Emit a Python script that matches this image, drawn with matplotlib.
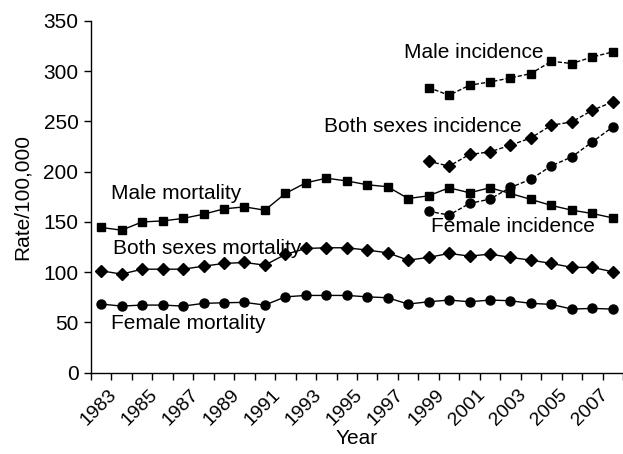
import numpy as np
import matplotlib.pyplot as plt
import matplotlib.transforms as mtransforms

plt.rcParams['font.family'] = ['Liberation Sans', 'DejaVu Sans']

# years of mortality data (1982-2007) and incidence data (1998-2007)
years = np.arange(1982, 2008)
inc_years = np.arange(1998, 2008)

male_mort = [144.5, 141.8, 150, 151, 153.5, 157.7, 163, 165, 161.7, 178.3, 188.9, 193.5,
             190.8, 187, 185, 173.3, 176, 184, 179, 184, 178.3, 172.4, 166.4, 161.7,
             158.4, 154]
both_mort = [101.4, 98.1, 103, 103, 103, 106, 108.7, 109.7, 107, 117.7, 123.6, 124.3,
             124.3, 122, 119.3, 112, 114.7, 118.7, 116, 118, 114.7, 112, 108.7, 104.8,
             104.8, 100.4]
female_mort = [68.3, 66.3, 67.3, 67.3, 66.3, 69, 69.6, 70, 67.3, 75.5, 76.9, 76.9,
               76.9, 75.5, 74.6, 68.3, 70.6, 72.3, 70.6, 72.3, 71.6, 69, 68, 63.3,
               64, 63.3]

male_inc = [283.7, 276, 286, 289.3, 293.2, 297.6, 309.8, 307.6, 314.1, 319.1]
both_inc = [210.4, 205.5, 217.1, 219.7, 226.3, 233.6, 246.2, 249.5, 261.1, 269.4]
female_inc = [160.7, 156.8, 168.4, 172.7, 184.3, 192.5, 205.8, 214.7, 229.6, 244.5]

label_years = np.arange(1983, 2008, 2)

fig = plt.figure(figsize=(6.23, 4.54), dpi=100)
ax = fig.add_axes([0.146, 0.179, 0.854, 0.775])

fs = 15
dash = (0, (3, 1.5))

# mortality - solid
ax.plot(years, male_mort, 'k-', marker='s', ms=5.5, lw=1.0)
ax.plot(years, both_mort, 'k-', marker='D', ms=6, lw=1.0)
ax.plot(years, female_mort, 'k-', marker='o', ms=6.5, lw=1.0)
# incidence - dashed
ax.plot(inc_years, male_inc, 'k', ls=dash, marker='s', ms=5.5, lw=1.0)
ax.plot(inc_years, both_inc, 'k', ls=dash, marker='D', ms=6, lw=1.0)
ax.plot(inc_years, female_inc, 'k', ls=dash, marker='o', ms=6.5, lw=1.0)

# series labels
ax.text(1982.5, 178.6, 'Male mortality', fontsize=fs, va='center')
ax.text(1982.6, 123.7, 'Both sexes mortality', fontsize=fs, va='center')
ax.text(1982.5, 49, 'Female mortality', fontsize=fs, va='center')
ax.text(1996.8, 319, 'Male incidence', fontsize=fs, va='center')
ax.text(1992.9, 245, 'Both sexes incidence', fontsize=fs, va='center')
ax.text(1998.1, 145, 'Female incidence', fontsize=fs, va='center')

ax.set_xlim(1981.5, 2007.5)
ax.set_ylim(0, 350)
ax.set_yticks(np.arange(0, 351, 50))

# tick marks between categories, labels at odd years
ax.set_xticks(np.arange(1981.5, 2008, 1), minor=True)
ax.set_xticks(label_years)
ax.set_xticklabels([str(y) for y in label_years], rotation=45, ha='right', fontsize=14)
ax.tick_params(axis='x', which='major', length=0, pad=9.5)
ax.tick_params(axis='x', which='minor', length=5, width=1.0, direction='out')
ax.tick_params(axis='y', length=5, width=1.0, direction='out', labelsize=fs, pad=4)
offset = mtransforms.ScaledTranslation(-1.5 / 100, 0, fig.dpi_scale_trans)
for lbl in ax.get_xticklabels():
    lbl.set_transform(lbl.get_transform() + offset)

for side in ['top', 'right']:
    ax.spines[side].set_visible(False)
for side in ['left', 'bottom']:
    ax.spines[side].set_linewidth(1.0)

ax.set_xlabel('Year', fontsize=fs, labelpad=0)
ax.set_ylabel('Rate/100,000', fontsize=fs, labelpad=8)

fig.savefig('out.png', dpi=100)
